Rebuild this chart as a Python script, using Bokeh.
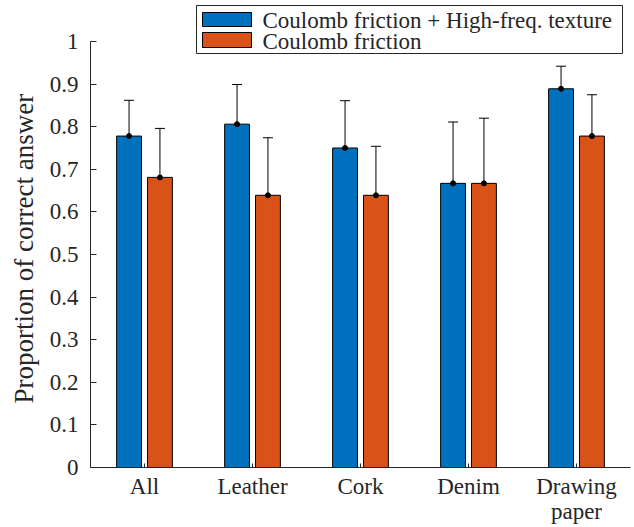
from bokeh.plotting import figure
from bokeh.models import (ColumnDataSource, Whisker, TeeHead, FixedTicker,
                          BoxAnnotation, Label, Range1d, Title)
from bokeh.embed import file_html
from bokeh.resources import INLINE

# ---- data ----
categories = ["All", "Leather", "Cork", "Denim", "Drawing\npaper"]
texture_mean = [0.778, 0.806, 0.750, 0.667, 0.889]
texture_low = [0.697, 0.716, 0.642, 0.527, 0.840]
texture_high = [0.862, 0.899, 0.861, 0.811, 0.942]
coulomb_mean = [0.681, 0.639, 0.639, 0.667, 0.778]
coulomb_low = [0.568, 0.507, 0.527, 0.516, 0.685]
coulomb_high = [0.796, 0.774, 0.754, 0.820, 0.875]
y_ticks = [0, 0.1, 0.2, 0.3, 0.4, 0.5, 0.6, 0.7, 0.8, 0.9, 1]
y_tick_labels = ["0", "0.1", "0.2", "0.3", "0.4", "0.5", "0.6", "0.7", "0.8", "0.9", "1"]
series_labels = ["Coulomb friction + High-freq. texture", "Coulomb friction"]
y_title = "Proportion of correct answer"

BLUE = "#0072BD"
ORANGE = "#D95319"
AX = "#262626"
FONT = "Liberation Serif"
OFF = 0.143
BW = 0.23

pos = list(range(1, len(categories) + 1))

src_t = ColumnDataSource(dict(x=[p_ - OFF for p_ in pos], top=texture_mean,
                              low=texture_low, high=texture_high))
src_c = ColumnDataSource(dict(x=[p_ + OFF for p_ in pos], top=coulomb_mean,
                              low=coulomb_low, high=coulomb_high))

# frame spans page y 4..467; value 1 sits at y=41 (426 px per unit)
p = figure(width=634, height=527, output_backend="svg", toolbar_location=None,
           x_range=Range1d(0.5, 5.5), y_range=Range1d(0, 1 + 37 / 426),
           min_border_left=90, min_border_right=4, min_border_top=4,
           min_border_bottom=60)
p.outline_line_color = None
p.xgrid.grid_line_color = None
p.ygrid.grid_line_color = None
p.background_fill_color = "white"

r1 = p.vbar(x="x", top="top", width=BW, bottom=0, source=src_t,
            fill_color=BLUE, line_color="black", line_width=1)
r2 = p.vbar(x="x", top="top", width=BW, bottom=0, source=src_c,
            fill_color=ORANGE, line_color="black", line_width=1)

for src in (src_t, src_c):
    w = Whisker(source=src, base="x", lower="low", upper="high",
                line_color="black", line_width=1,
                upper_head=TeeHead(size=10, line_color="black", line_width=1),
                lower_head=TeeHead(size=10, line_color="black", line_width=1))
    p.add_layout(w)
    p.scatter(x="x", y="top", source=src, size=5, color="black")

# axes
p.xaxis.ticker = FixedTicker(ticks=pos)
p.xaxis.major_label_overrides = {p_: c for p_, c in zip(pos, categories)}
p.yaxis.ticker = FixedTicker(ticks=y_ticks)
p.yaxis.major_label_overrides = {t: l for t, l in zip(y_ticks, y_tick_labels)}
p.yaxis.bounds = (0, 1)
for ax in (p.xaxis[0], p.yaxis[0]):
    ax.axis_line_color = AX
    ax.axis_line_width = 1
    ax.major_tick_line_color = AX
    ax.major_tick_in = 6
    ax.major_tick_out = 0
    ax.minor_tick_line_color = None
    ax.major_label_text_font = FONT
    ax.major_label_text_font_size = "23px"
    ax.major_label_text_color = AX
p.xaxis.major_tick_in = 4
p.xaxis.major_label_standoff = 6
p.xaxis.major_label_text_line_height = 1.0
p.yaxis.major_label_standoff = 12

# y-axis title as a side title (positioned along the axis with offset)
p.add_layout(Title(text=y_title, align="left", offset=64,
                   vertical_align="middle", text_font=FONT,
                   text_font_size="27px", text_font_style="normal",
                   text_color=AX, standoff=13), "left")

# legend (drawn as annotations, screen units relative to frame bottom-left)
p.add_layout(BoxAnnotation(left=106, right=532, bottom=414, top=462,
                           left_units="screen", right_units="screen",
                           bottom_units="screen", top_units="screen",
                           fill_color="white", fill_alpha=1,
                           line_color=AX, line_width=1, line_alpha=1))
swatches = [(BLUE, 441, 455), (ORANGE, 420, 435)]
baselines = [447, 426]
for (col, b, t), lab, yb in zip(swatches, series_labels, baselines):
    p.add_layout(BoxAnnotation(left=112, right=161, bottom=b, top=t,
                               left_units="screen", right_units="screen",
                               bottom_units="screen", top_units="screen",
                               fill_color=col, fill_alpha=1,
                               line_color="black", line_width=1, line_alpha=1))
    p.add_layout(Label(x=172, y=yb, x_units="screen", y_units="screen",
                       text=lab, text_font=FONT, text_font_size="23px",
                       text_color=AX, text_baseline="alphabetic",
                       text_align="left"))

open("out.html", "w").write(file_html(p, INLINE))
